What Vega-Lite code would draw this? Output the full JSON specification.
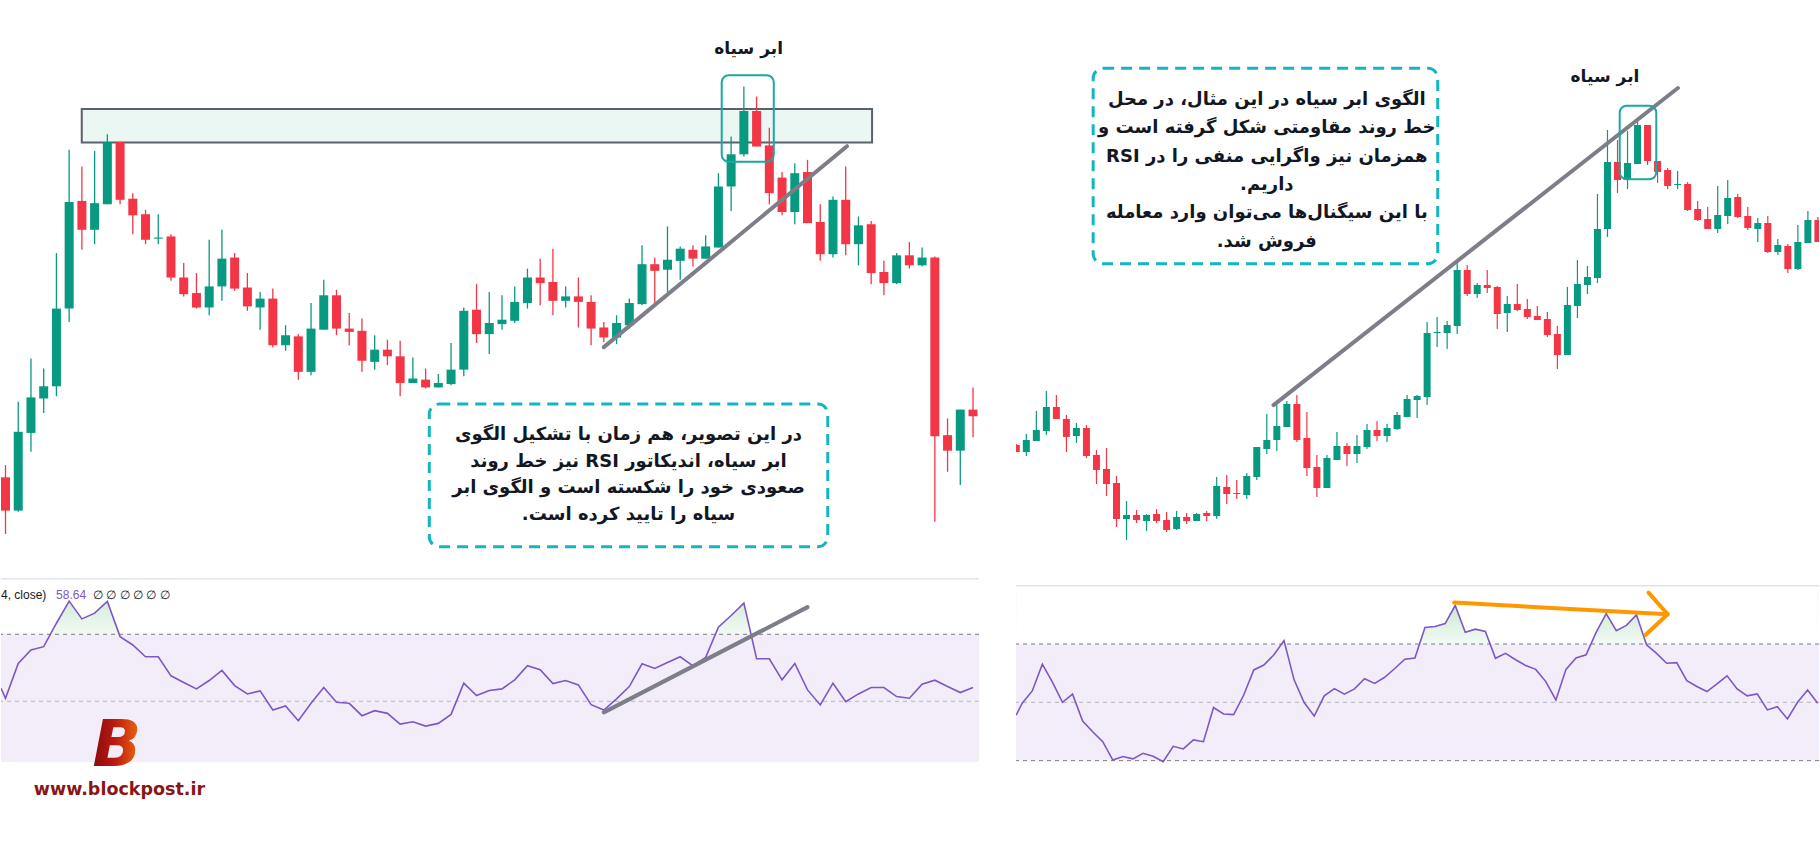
{
  "$schema": "https://vega.github.io/schema/vega-lite/v6.json",
  "padding": 0,
  "background": "white",
  "config": {"view": {"stroke": null}, "axis": {"disable": true}, "concat": {"spacing": 0}},
  "datasets": {
    "lc": [
      {"i":0,"o":170,"h":181,"l":119,"c":140},{"i":1,"o":140,"h":238,"l":139,"c":211},{"i":2,"o":210,"h":277,"l":193,"c":242},{"i":3,"o":241,"h":268,"l":228,"c":252},
      {"i":4,"o":252,"h":372,"l":243,"c":322},{"i":5,"o":322,"h":465,"l":310,"c":418},{"i":6,"o":419,"h":450,"l":375,"c":393},{"i":7,"o":393,"h":464,"l":380,"c":417},
      {"i":8,"o":416,"h":479,"l":416,"c":472},{"i":9,"o":472,"h":472,"l":416,"c":420},{"i":10,"o":421,"h":426,"l":389,"c":406},{"i":11,"o":407,"h":411,"l":380,"c":384},
      {"i":12,"o":385,"h":407,"l":380,"c":386},{"i":13,"o":387,"h":389,"l":347,"c":350},{"i":14,"o":350,"h":363,"l":333,"c":335},{"i":15,"o":336,"h":354,"l":322,"c":323},
      {"i":16,"o":323,"h":384,"l":316,"c":342},{"i":17,"o":342,"h":393,"l":329,"c":367},{"i":18,"o":368,"h":372,"l":338,"c":340},{"i":19,"o":341,"h":354,"l":320,"c":324},
      {"i":20,"o":323,"h":337,"l":303,"c":331},{"i":21,"o":331,"h":340,"l":287,"c":289},{"i":22,"o":289,"h":307,"l":284,"c":298},{"i":23,"o":297,"h":299,"l":258,"c":265},
      {"i":24,"o":265,"h":327,"l":262,"c":304},{"i":25,"o":303,"h":348,"l":303,"c":334},{"i":26,"o":334,"h":339,"l":298,"c":304},{"i":27,"o":304,"h":318,"l":289,"c":301},
      {"i":28,"o":302,"h":313,"l":265,"c":275},{"i":29,"o":274,"h":298,"l":267,"c":285},{"i":30,"o":285,"h":294,"l":271,"c":279},{"i":31,"o":279,"h":293,"l":243,"c":255},
      {"i":32,"o":255,"h":278,"l":255,"c":259},{"i":33,"o":258,"h":268,"l":250,"c":251},{"i":34,"o":251,"h":263,"l":251,"c":255},{"i":35,"o":254,"h":291,"l":253,"c":267},
      {"i":36,"o":267,"h":323,"l":261,"c":320},{"i":37,"o":321,"h":344,"l":291,"c":299},{"i":38,"o":299,"h":337,"l":281,"c":309},{"i":39,"o":308,"h":334,"l":303,"c":312},
      {"i":40,"o":311,"h":342,"l":309,"c":328},{"i":41,"o":327,"h":358,"l":322,"c":350},{"i":42,"o":350,"h":367,"l":325,"c":345},{"i":43,"o":346,"h":376,"l":316,"c":329},
      {"i":44,"o":329,"h":342,"l":323,"c":333},{"i":45,"o":333,"h":350,"l":305,"c":328},{"i":46,"o":328,"h":334,"l":289,"c":304},{"i":47,"o":305,"h":310,"l":292,"c":296},
      {"i":48,"o":296,"h":316,"l":290,"c":309},{"i":49,"o":307,"h":331,"l":304,"c":327},{"i":50,"o":326,"h":379,"l":325,"c":362},{"i":51,"o":362,"h":368,"l":326,"c":356},
      {"i":52,"o":357,"h":396,"l":337,"c":366},{"i":53,"o":365,"h":378,"l":348,"c":376},{"i":54,"o":375,"h":379,"l":360,"c":367},{"i":55,"o":367,"h":388,"l":367,"c":378},
      {"i":56,"o":377,"h":444,"l":377,"c":432},{"i":57,"o":432,"h":477,"l":410,"c":461},{"i":58,"o":461,"h":522,"l":459,"c":500},{"i":59,"o":500,"h":513,"l":468,"c":468},
      {"i":60,"o":469,"h":485,"l":416,"c":426},{"i":61,"o":440,"h":445,"l":406,"c":409},{"i":62,"o":409,"h":453,"l":398,"c":444},{"i":63,"o":445,"h":456,"l":399,"c":399},
      {"i":64,"o":400,"h":416,"l":365,"c":371},{"i":65,"o":371,"h":423,"l":368,"c":420},{"i":66,"o":420,"h":450,"l":370,"c":380},{"i":67,"o":380,"h":405,"l":361,"c":397},
      {"i":68,"o":398,"h":401,"l":344,"c":354},{"i":69,"o":355,"h":365,"l":334,"c":345},{"i":70,"o":345,"h":372,"l":344,"c":370},{"i":71,"o":370,"h":382,"l":358,"c":361},
      {"i":72,"o":361,"h":377,"l":360,"c":368},{"i":73,"o":368,"h":369,"l":130,"c":207},{"i":74,"o":208,"h":223,"l":175,"c":194},{"i":75,"o":194,"h":231,"l":163,"c":231},
      {"i":76,"o":231,"h":251,"l":206,"c":225}
    ],
    "rc": [
      {"i":0,"o":155,"h":156,"l":148,"c":148},{"i":1,"o":148,"h":166,"l":144,"c":160},{"i":2,"o":159,"h":189,"l":159,"c":170},{"i":3,"o":169,"h":209,"l":165,"c":193},
      {"i":4,"o":193,"h":205,"l":181,"c":181},{"i":5,"o":181,"h":185,"l":148,"c":163},{"i":6,"o":164,"h":177,"l":157,"c":172},{"i":7,"o":172,"h":175,"l":142,"c":144},
      {"i":8,"o":145,"h":150,"l":116,"c":130},{"i":9,"o":131,"h":152,"l":104,"c":116},{"i":10,"o":117,"h":124,"l":73,"c":81},{"i":11,"o":81,"h":99,"l":60,"c":85},
      {"i":12,"o":85,"h":90,"l":77,"c":80},{"i":13,"o":79,"h":86,"l":69,"c":85},{"i":14,"o":86,"h":91,"l":77,"c":79},{"i":15,"o":80,"h":88,"l":68,"c":70},
      {"i":16,"o":71,"h":89,"l":70,"c":83},{"i":17,"o":83,"h":87,"l":76,"c":79},{"i":18,"o":79,"h":87,"l":79,"c":86},{"i":19,"o":87,"h":89,"l":79,"c":84},
      {"i":20,"o":84,"h":123,"l":81,"c":114},{"i":21,"o":113,"h":125,"l":96,"c":106},{"i":22,"o":107,"h":120,"l":101,"c":106},{"i":23,"o":105,"h":127,"l":101,"c":124},
      {"i":24,"o":123,"h":153,"l":120,"c":153},{"i":25,"o":151,"h":186,"l":146,"c":160},{"i":26,"o":160,"h":195,"l":149,"c":174},{"i":27,"o":173,"h":199,"l":173,"c":196},
      {"i":28,"o":196,"h":205,"l":158,"c":160},{"i":29,"o":162,"h":188,"l":124,"c":132},{"i":30,"o":133,"h":145,"l":103,"c":112},{"i":31,"o":112,"h":145,"l":112,"c":142},
      {"i":32,"o":140,"h":168,"l":140,"c":154},{"i":33,"o":154,"h":157,"l":134,"c":146},{"i":34,"o":146,"h":165,"l":137,"c":154},{"i":35,"o":153,"h":176,"l":151,"c":170},
      {"i":36,"o":170,"h":179,"l":159,"c":164},{"i":37,"o":164,"h":176,"l":158,"c":172},{"i":38,"o":171,"h":188,"l":170,"c":185},{"i":39,"o":183,"h":205,"l":183,"c":201},
      {"i":40,"o":200,"h":205,"l":182,"c":204},{"i":41,"o":203,"h":278,"l":195,"c":267},{"i":42,"o":267,"h":283,"l":253,"c":268},{"i":43,"o":267,"h":279,"l":251,"c":275},
      {"i":44,"o":274,"h":340,"l":266,"c":330},{"i":45,"o":330,"h":335,"l":304,"c":306},{"i":46,"o":306,"h":317,"l":302,"c":315},{"i":47,"o":315,"h":330,"l":307,"c":312},
      {"i":48,"o":313,"h":314,"l":271,"c":286},{"i":49,"o":287,"h":304,"l":268,"c":296},{"i":50,"o":296,"h":316,"l":289,"c":290},{"i":51,"o":291,"h":301,"l":281,"c":283},
      {"i":52,"o":284,"h":294,"l":280,"c":280},{"i":53,"o":281,"h":288,"l":263,"c":265},{"i":54,"o":266,"h":274,"l":231,"c":245},{"i":55,"o":245,"h":313,"l":245,"c":295},
      {"i":56,"o":294,"h":340,"l":282,"c":316},{"i":57,"o":315,"h":334,"l":306,"c":323},{"i":58,"o":322,"h":406,"l":317,"c":371},{"i":59,"o":371,"h":470,"l":363,"c":438},
      {"i":60,"o":438,"h":460,"l":407,"c":420},{"i":61,"o":420,"h":469,"l":411,"c":437},{"i":62,"o":436,"h":480,"l":436,"c":475},{"i":63,"o":475,"h":475,"l":435,"c":439},
      {"i":64,"o":439,"h":439,"l":417,"c":428},{"i":65,"o":430,"h":432,"l":411,"c":414},{"i":66,"o":415,"h":429,"l":411,"c":416},{"i":67,"o":416,"h":418,"l":389,"c":390},
      {"i":68,"o":391,"h":399,"l":379,"c":380},{"i":69,"o":381,"h":393,"l":371,"c":371},{"i":70,"o":371,"h":414,"l":367,"c":385},{"i":71,"o":384,"h":420,"l":376,"c":402},
      {"i":72,"o":403,"h":406,"l":382,"c":383},{"i":73,"o":384,"h":393,"l":370,"c":372},{"i":74,"o":371,"h":382,"l":358,"c":377},{"i":75,"o":377,"h":384,"l":347,"c":348},
      {"i":76,"o":348,"h":361,"l":345,"c":355},{"i":77,"o":354,"h":356,"l":327,"c":331},{"i":78,"o":331,"h":375,"l":330,"c":358},{"i":79,"o":357,"h":389,"l":357,"c":380},
      {"i":80,"o":380,"h":383,"l":358,"c":358}
    ],
    "lr": [
      {"i":-0.35,"r":53.9},{"i":0,"r":50.9},{"i":1,"r":61.3},{"i":2,"r":65.3},{"i":3,"r":66.3},{"i":4,"r":73.3},{"i":5,"r":79.9},{"i":6,"r":74.6},{"i":7,"r":76.3},{"i":8,"r":79.8},
      {"i":9,"r":69.3},{"i":10,"r":66.8},{"i":11,"r":63.3},{"i":12,"r":63.3},{"i":13,"r":57.6},{"i":14,"r":55.6},{"i":15,"r":53.7},{"i":16,"r":56.2},{"i":17,"r":59.2},{"i":18,"r":54.7},
      {"i":19,"r":52.2},{"i":20,"r":53.1},{"i":21,"r":47.4},{"i":22,"r":48.6},{"i":23,"r":44.2},{"i":24,"r":49.4},{"i":25,"r":54.1},{"i":26,"r":49.7},{"i":27,"r":49.4},{"i":28,"r":45.7},
      {"i":29,"r":47.2},{"i":30,"r":46.4},{"i":31,"r":43.2},{"i":32,"r":43.9},{"i":33,"r":42.6},{"i":34,"r":43.4},{"i":35,"r":46.1},{"i":36,"r":55.4},{"i":37,"r":51.7},{"i":38,"r":53.2},
      {"i":39,"r":53.7},{"i":40,"r":56.4},{"i":41,"r":60.6},{"i":42,"r":59.4},{"i":43,"r":55.3},{"i":44,"r":56.2},{"i":45,"r":54.9},{"i":46,"r":49.0},{"i":47,"r":47.4},{"i":48,"r":50.7},
      {"i":49,"r":54.4},{"i":50,"r":61.2},{"i":51,"r":59.8},{"i":52,"r":61.6},{"i":53,"r":63.3},{"i":54,"r":60.6},{"i":55,"r":63.1},{"i":56,"r":72.1},{"i":57,"r":75.6},{"i":58,"r":79.3},
      {"i":59,"r":62.7},{"i":60,"r":62.7},{"i":61,"r":56.4},{"i":62,"r":61.3},{"i":63,"r":53.4},{"i":64,"r":48.9},{"i":65,"r":55.4},{"i":66,"r":49.9},{"i":67,"r":52.2},{"i":68,"r":54.1},
      {"i":69,"r":54.1},{"i":70,"r":51.4},{"i":71,"r":50.9},{"i":72,"r":55.1},{"i":73,"r":56.3},{"i":74,"r":54.4},{"i":75,"r":52.6},{"i":76,"r":54.1}
    ],
    "rr": [
      {"t":-0.6,"r":45.6},{"t":0,"r":49.7},{"t":1,"r":53.9},{"t":2,"r":63.1},{"t":3,"r":56.9},{"t":4,"r":50.0},{"t":5,"r":52.8},{"t":6,"r":43.6},{"t":7,"r":39.9},{"t":8,"r":36.5},
      {"t":9,"r":30.2},{"t":10,"r":31.4},{"t":11,"r":30.6},{"t":12,"r":32.5},{"t":13,"r":31.5},{"t":14,"r":29.6},{"t":15,"r":34.9},{"t":16,"r":34.0},{"t":17,"r":37.1},{"t":18,"r":36.5},
      {"t":19,"r":48.2},{"t":20,"r":46.0},{"t":21,"r":45.8},{"t":22,"r":52.5},{"t":23,"r":61.1},{"t":24,"r":62.8},{"t":25,"r":66.3},{"t":26,"r":71.2},{"t":27,"r":57.7},{"t":28,"r":49.9},
      {"t":29,"r":45.3},{"t":30,"r":52.2},{"t":31,"r":54.7},{"t":32,"r":52.8},{"t":33,"r":54.6},{"t":34,"r":58.1},{"t":35,"r":56.5},{"t":36,"r":58.6},{"t":37,"r":61.6},{"t":38,"r":64.8},
      {"t":39,"r":65.2},{"t":40,"r":75.7},{"t":41,"r":76.0},{"t":42,"r":77.0},{"t":43,"r":83.2},{"t":44,"r":74.0},{"t":45,"r":75.1},{"t":46,"r":74.3},{"t":47,"r":65.1},{"t":48,"r":66.8},
      {"t":49,"r":64.6},{"t":50,"r":62.6},{"t":51,"r":61.3},{"t":52,"r":57.1},{"t":53,"r":50.8},{"t":54,"r":61.3},{"t":55,"r":65.2},{"t":56,"r":66.3},{"t":57,"r":74.0},{"t":58,"r":80.4},
      {"t":59,"r":74.6},{"t":60,"r":76.4},{"t":61,"r":80.0},{"t":62,"r":69.7},{"t":63,"r":66.8},{"t":64,"r":63.4},{"t":65,"r":63.6},{"t":66,"r":57.4},{"t":67,"r":55.4},{"t":68,"r":53.7},
      {"t":69,"r":56.3},{"t":70,"r":59.1},{"t":71,"r":54.6},{"t":72,"r":52.2},{"t":73,"r":52.9},{"t":74,"r":47.4},{"t":75,"r":48.5},{"t":76,"r":44.3},{"t":77,"r":50.0},{"t":78,"r":54.2},
      {"t":79,"r":49.7}
    ]
  },
  "hconcat": [
    {
      "spacing": 0,
      "bounds": "flush",
      "vconcat": [
        {
          "width": 978,
          "height": 578,
          "layer": [
            {
              "data": {"values": [{"x": 5.99, "x2": 68.07, "y": 471.7, "y2": 501.7}]},
              "mark": {"type": "rect", "fill": "#ebf7f3", "stroke": "#5d606b", "strokeWidth": 2},
              "encoding": {
                "x": {"field": "x", "type": "quantitative", "scale": {"domain": [-0.3535, 76.47], "nice": false, "zero": false}, "axis": null},
                "x2": {"field": "x2"},
                "y": {"field": "y", "type": "quantitative", "scale": {"domain": [79.3, 600], "nice": false, "zero": false}, "axis": null},
                "y2": {"field": "y2"}
              }
            },
            {
              "data": {"name": "lc"},
              "mark": {"type": "rule", "strokeWidth": 1.3, "clip": true},
              "encoding": {
                "x": {"field": "i", "type": "quantitative", "axis": null},
                "y": {"field": "l", "type": "quantitative", "axis": null},
                "y2": {"field": "h"},
                "color": {"condition": {"test": "datum.c >= datum.o", "value": "#089981"}, "value": "#f23645"}
              }
            },
            {
              "data": {"name": "lc"},
              "mark": {"type": "rule", "strokeWidth": 9, "strokeCap": "butt", "clip": true},
              "encoding": {
                "x": {"field": "i", "type": "quantitative", "axis": null},
                "y": {"field": "o", "type": "quantitative", "axis": null},
                "y2": {"field": "c"},
                "color": {"condition": {"test": "datum.c >= datum.o", "value": "#089981"}, "value": "#f23645"}
              }
            },
            {
              "data": {"values": [{"x": 47.0, "y": 287.3}, {"x": 66.1, "y": 468.3}]},
              "mark": {"type": "line", "stroke": "#7d7e88", "strokeWidth": 4, "strokeCap": "round"},
              "encoding": {
                "x": {"field": "x", "type": "quantitative", "axis": null},
                "y": {"field": "y", "type": "quantitative", "axis": null}
              }
            },
            {
              "data": {"values": [{"x": 56.26, "x2": 60.35, "y": 454.3, "y2": 532.3}]},
              "mark": {"type": "rect", "fill": null, "fillOpacity": 0, "stroke": "#1ba99f", "strokeWidth": 2, "cornerRadius": 7},
              "encoding": {
                "x": {"field": "x", "type": "quantitative", "axis": null},
                "x2": {"field": "x2"},
                "y": {"field": "y", "type": "quantitative", "axis": null},
                "y2": {"field": "y2"}
              }
            },
            {
              "data": {"values": [{"x": 33.29, "x2": 64.59, "y": 107.5, "y2": 236}]},
              "mark": {"type": "rect", "fill": null, "fillOpacity": 0, "stroke": "#12b6c3", "strokeWidth": 3, "strokeDash": [11, 7], "cornerRadius": 10},
              "encoding": {
                "x": {"field": "x", "type": "quantitative", "axis": null},
                "x2": {"field": "x2"},
                "y": {"field": "y", "type": "quantitative", "axis": null},
                "y2": {"field": "y2"}
              }
            },
            {
              "data": {"values": [{"x": 58.37, "y": 555.9, "t": "ابر سیاه"}]},
              "mark": {"type": "text", "font": "DejaVu Sans", "fontSize": 17, "fontWeight": "bold", "color": "#131722", "align": "center", "baseline": "middle"},
              "encoding": {
                "x": {"field": "x", "type": "quantitative", "axis": null},
                "y": {"field": "y", "type": "quantitative", "axis": null},
                "text": {"field": "t"}
              }
            },
            {
              "data": {"values": [
                {"x": 48.94, "y": 208.1, "t": "‫در این تصویر، هم زمان با تشکیل الگوی‬"},
                {"x": 48.94, "y": 184.1, "t": "‫ابر سیاه، اندیکاتور RSI نیز خط روند‬"},
                {"x": 48.94, "y": 160.1, "t": "‫صعودی خود را شکسته است و الگوی ابر‬"},
                {"x": 48.94, "y": 136.0, "t": "‫سیاه را تایید کرده است.‬"}
              ]},
              "mark": {"type": "text", "font": "DejaVu Sans", "fontSize": 18, "fontWeight": "bold", "color": "#131722", "align": "center", "baseline": "middle"},
              "encoding": {
                "x": {"field": "x", "type": "quantitative", "axis": null},
                "y": {"field": "y", "type": "quantitative", "axis": null},
                "text": {"field": "t"}
              }
            }
          ]
        },
        {
          "width": 978,
          "height": 184,
          "layer": [
            {
              "data": {"values": [{}]},
              "mark": {"type": "rect", "fill": {"gradient": "linear", "x1": 0, "y1": 0, "x2": 0, "y2": 1, "stops": [{"offset": 0, "color": "#bfe2c7"}, {"offset": 1, "color": "#f3faf4"}]}},
              "encoding": {
                "x": {"datum": -0.35, "type": "quantitative", "scale": {"domain": [-0.3535, 76.47], "nice": false, "zero": false}, "axis": null},
                "x2": {"datum": 76},
                "y": {"datum": 70, "type": "quantitative", "scale": {"domain": [31.88, 86.8], "nice": false, "zero": false}, "axis": null},
                "y2": {"datum": 86.8}
              }
            },
            {
              "data": {"name": "lr"},
              "mark": {"type": "area", "fill": "white"},
              "encoding": {
                "x": {"field": "i", "type": "quantitative", "axis": null},
                "y": {"field": "r", "type": "quantitative", "axis": null},
                "y2": {"datum": 86.8}
              }
            },
            {
              "data": {"values": [{}]},
              "mark": {"type": "rect", "fill": "#f2edf9"},
              "encoding": {
                "x": {"datum": -0.3535, "type": "quantitative", "axis": null},
                "x2": {"datum": 76.47},
                "y": {"datum": 31.88, "type": "quantitative", "axis": null},
                "y2": {"datum": 70}
              }
            },
            {
              "data": {"values": [{}]},
              "mark": {"type": "rule", "stroke": "#787b86", "strokeDash": [4, 4], "strokeWidth": 1},
              "encoding": {"y": {"datum": 70, "type": "quantitative", "axis": null}}
            },
            {
              "data": {"values": [{}]},
              "mark": {"type": "rule", "stroke": "#b3b5bd", "strokeDash": [4, 4], "strokeWidth": 1},
              "encoding": {"y": {"datum": 50, "type": "quantitative", "axis": null}}
            },
            {
              "data": {"values": [{}]},
              "mark": {"type": "rule", "stroke": "#e0e3eb", "strokeWidth": 1.5},
              "encoding": {"y": {"datum": 86.6, "type": "quantitative", "axis": null}}
            },
            {
              "data": {"name": "lr"},
              "mark": {"type": "line", "stroke": "#7e57c2", "strokeWidth": 1.6, "clip": true},
              "encoding": {
                "x": {"field": "i", "type": "quantitative", "axis": null},
                "y": {"field": "r", "type": "quantitative", "axis": null}
              }
            },
            {
              "data": {"values": [{"x": 47.0, "y": 46.7}, {"x": 63.0, "y": 78.1}]},
              "mark": {"type": "line", "stroke": "#7d7e88", "strokeWidth": 4, "strokeCap": "round"},
              "encoding": {
                "x": {"field": "x", "type": "quantitative", "axis": null},
                "y": {"field": "y", "type": "quantitative", "axis": null}
              }
            },
            {
              "data": {"values": [
                {"x": -0.3535, "y": 81.7, "t": "4, close)", "c": "#131722"},
                {"x": 3.97, "y": 81.7, "t": "58.64", "c": "#7e57c2"},
                {"x": 6.87, "y": 81.7, "t": "∅  ∅  ∅  ∅  ∅  ∅", "c": "#131722"}
              ]},
              "mark": {"type": "text", "font": "Liberation Sans", "fontSize": 12, "align": "left", "baseline": "middle"},
              "encoding": {
                "x": {"field": "x", "type": "quantitative", "axis": null},
                "y": {"field": "y", "type": "quantitative", "axis": null},
                "text": {"field": "t"},
                "color": {"field": "c", "type": "nominal", "scale": null}
              }
            },
            {
              "data": {"values": [{"x": 8.75, "y": 36.5, "t": "B"}]},
              "mark": {"type": "text", "font": "DejaVu Sans", "fontSize": 64, "fontWeight": "bold", "fontStyle": "italic", "align": "center", "baseline": "middle",
                "fill": {"gradient": "linear", "x1": 0, "y1": 0, "x2": 1, "y2": 0, "stops": [{"offset": 0, "color": "#8a0a0e"}, {"offset": 0.45, "color": "#b81a10"}, {"offset": 1, "color": "#f06c12"}]}},
              "encoding": {
                "x": {"field": "x", "type": "quantitative", "axis": null},
                "y": {"field": "y", "type": "quantitative", "axis": null},
                "text": {"field": "t"}
              }
            },
            {
              "data": {"values": [{"x": 8.95, "y": 23.6, "t": "www.blockpost.ir"}]},
              "mark": {"type": "text", "font": "DejaVu Sans", "fontSize": 17.5, "fontWeight": "bold", "color": "#8b1414", "align": "center", "baseline": "middle"},
              "encoding": {
                "x": {"field": "x", "type": "quantitative", "axis": null},
                "y": {"field": "y", "type": "quantitative", "axis": null},
                "text": {"field": "t"}
              }
            }
          ]
        }
      ]
    },
    {
      "spacing": 0,
      "bounds": "flush",
      "vconcat": [
        {
          "width": 803,
          "height": 585,
          "layer": [
            {
              "data": {"name": "rc"},
              "mark": {"type": "rule", "strokeWidth": 1.2, "clip": true},
              "encoding": {
                "x": {"field": "i", "type": "quantitative", "scale": {"domain": [-0.03, 80.11], "nice": false, "zero": false}, "axis": null},
                "y": {"field": "l", "type": "quantitative", "scale": {"domain": [15, 600], "nice": false, "zero": false}, "axis": null},
                "y2": {"field": "h"},
                "color": {"condition": {"test": "datum.c >= datum.o", "value": "#089981"}, "value": "#f23645"}
              }
            },
            {
              "data": {"name": "rc"},
              "mark": {"type": "rule", "strokeWidth": 7, "strokeCap": "butt", "clip": true},
              "encoding": {
                "x": {"field": "i", "type": "quantitative", "axis": null},
                "y": {"field": "o", "type": "quantitative", "axis": null},
                "y2": {"field": "c"},
                "color": {"condition": {"test": "datum.c >= datum.o", "value": "#089981"}, "value": "#f23645"}
              }
            },
            {
              "data": {"values": [{"x": 25.67, "y": 194.9}, {"x": 66.03, "y": 512}]},
              "mark": {"type": "line", "stroke": "#7d7e88", "strokeWidth": 4, "strokeCap": "round"},
              "encoding": {
                "x": {"field": "x", "type": "quantitative", "axis": null},
                "y": {"field": "y", "type": "quantitative", "axis": null}
              }
            },
            {
              "data": {"values": [{"x": 60.22, "x2": 63.87, "y": 420.7, "y2": 494.3}]},
              "mark": {"type": "rect", "fill": null, "fillOpacity": 0, "stroke": "#1ba99f", "strokeWidth": 2, "cornerRadius": 7},
              "encoding": {
                "x": {"field": "x", "type": "quantitative", "axis": null},
                "x2": {"field": "x2"},
                "y": {"field": "y", "type": "quantitative", "axis": null},
                "y2": {"field": "y2"}
              }
            },
            {
              "data": {"values": [{"x": 7.67, "x2": 42.06, "y": 336.2, "y2": 531.7}]},
              "mark": {"type": "rect", "fill": null, "fillOpacity": 0, "stroke": "#12b6c3", "strokeWidth": 3, "strokeDash": [11, 7], "cornerRadius": 10},
              "encoding": {
                "x": {"field": "x", "type": "quantitative", "axis": null},
                "x2": {"field": "x2"},
                "y": {"field": "y", "type": "quantitative", "axis": null},
                "y2": {"field": "y2"}
              }
            },
            {
              "data": {"values": [{"x": 58.75, "y": 523.4, "t": "ابر سیاه"}]},
              "mark": {"type": "text", "font": "DejaVu Sans", "fontSize": 17, "fontWeight": "bold", "color": "#131722", "align": "center", "baseline": "middle"},
              "encoding": {
                "x": {"field": "x", "type": "quantitative", "axis": null},
                "y": {"field": "y", "type": "quantitative", "axis": null},
                "text": {"field": "t"}
              }
            },
            {
              "data": {"values": [
                {"x": 25.0, "y": 500.0, "t": "‫الگوی ابر سیاه در این مثال، در محل‬"},
                {"x": 25.0, "y": 471.7, "t": "‫خط روند مقاومتی شکل گرفته است و‬"},
                {"x": 25.0, "y": 443.3, "t": "‫همزمان نیز واگرایی منفی را در  RSI‬"},
                {"x": 25.0, "y": 415.0, "t": "‫داریم.‬"},
                {"x": 25.0, "y": 386.7, "t": "‫با این سیگنال‌ها می‌توان وارد معامله‬"},
                {"x": 25.0, "y": 358.3, "t": "‫فروش شد.‬"}
              ]},
              "mark": {"type": "text", "font": "DejaVu Sans", "fontSize": 18, "fontWeight": "bold", "color": "#131722", "align": "center", "baseline": "middle"},
              "encoding": {
                "x": {"field": "x", "type": "quantitative", "axis": null},
                "y": {"field": "y", "type": "quantitative", "axis": null},
                "text": {"field": "t"}
              }
            }
          ]
        },
        {
          "width": 803,
          "height": 185,
          "layer": [
            {
              "data": {"values": [{}]},
              "mark": {"type": "rect", "fill": {"gradient": "linear", "x1": 0, "y1": 0, "x2": 0, "y2": 1, "stops": [{"offset": 0, "color": "#bfe2c7"}, {"offset": 1, "color": "#f3faf4"}]}},
              "encoding": {
                "x": {"datum": -0.6, "type": "quantitative", "scale": {"domain": [-0.616, 79.13], "nice": false, "zero": false}, "axis": null},
                "x2": {"datum": 79},
                "y": {"datum": 70, "type": "quantitative", "scale": {"domain": [26.78, 90.24], "nice": false, "zero": false}, "axis": null},
                "y2": {"datum": 88}
              }
            },
            {
              "data": {"name": "rr"},
              "mark": {"type": "area", "fill": "white"},
              "encoding": {
                "x": {"field": "t", "type": "quantitative", "axis": null},
                "y": {"field": "r", "type": "quantitative", "axis": null},
                "y2": {"datum": 90.24}
              }
            },
            {
              "data": {"values": [{}]},
              "mark": {"type": "rect", "fill": "#f2edf9"},
              "encoding": {
                "x": {"datum": -0.616, "type": "quantitative", "axis": null},
                "x2": {"datum": 79.13},
                "y": {"datum": 30, "type": "quantitative", "axis": null},
                "y2": {"datum": 70}
              }
            },
            {
              "data": {"values": [{"v": 70}, {"v": 30}]},
              "mark": {"type": "rule", "stroke": "#787b86", "strokeDash": [4, 4], "strokeWidth": 1},
              "encoding": {"y": {"field": "v", "type": "quantitative", "axis": null}}
            },
            {
              "data": {"values": [{}]},
              "mark": {"type": "rule", "stroke": "#b3b5bd", "strokeDash": [4, 4], "strokeWidth": 1},
              "encoding": {"y": {"datum": 50, "type": "quantitative", "axis": null}}
            },
            {
              "data": {"values": [{}]},
              "mark": {"type": "rule", "stroke": "#e0e3eb", "strokeWidth": 1.5},
              "encoding": {"y": {"datum": 90.0, "type": "quantitative", "axis": null}}
            },
            {
              "data": {"name": "rr"},
              "mark": {"type": "line", "stroke": "#7e57c2", "strokeWidth": 1.6, "clip": true},
              "encoding": {
                "x": {"field": "t", "type": "quantitative", "axis": null},
                "y": {"field": "r", "type": "quantitative", "axis": null}
              }
            },
            {
              "data": {"values": [
                {"g": "shaft", "o": 1, "x": 42.9, "y": 84.2},
                {"g": "shaft", "o": 2, "x": 64.1, "y": 80.2},
                {"g": "head", "o": 1, "x": 62.2, "y": 87.6},
                {"g": "head", "o": 2, "x": 64.1, "y": 80.2},
                {"g": "head", "o": 3, "x": 61.9, "y": 73.1}
              ]},
              "mark": {"type": "line", "stroke": "#ff9800", "strokeWidth": 4, "strokeCap": "round", "strokeJoin": "round"},
              "encoding": {
                "x": {"field": "x", "type": "quantitative", "axis": null},
                "y": {"field": "y", "type": "quantitative", "axis": null},
                "detail": {"field": "g"},
                "order": {"field": "o"}
              }
            }
          ]
        }
      ]
    }
  ],
  "spacing": 35
}
